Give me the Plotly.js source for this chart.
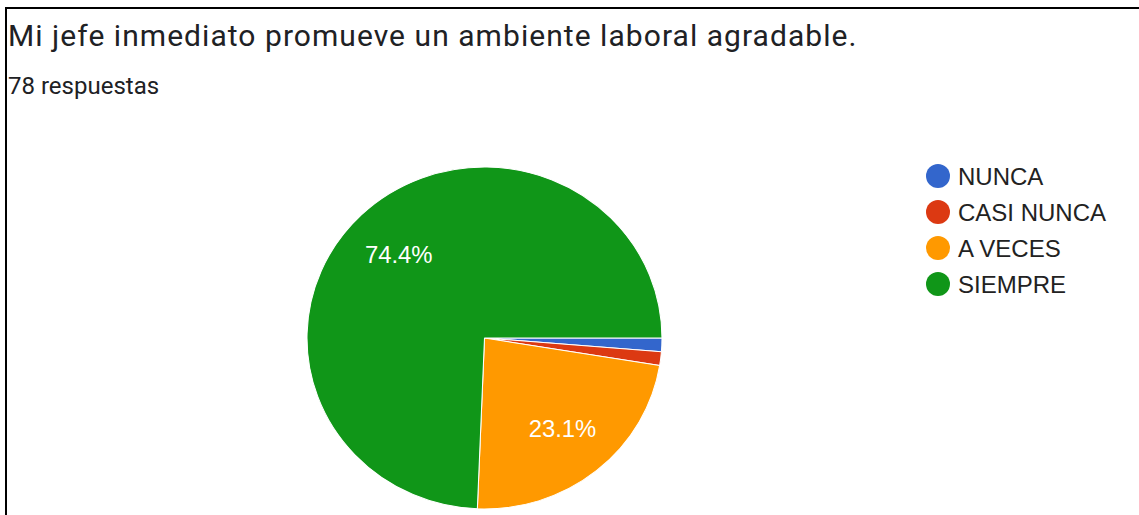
<!DOCTYPE html>
<html>
<head>
<meta charset="utf-8">
<script src="https://cdn.plot.ly/plotly-3.0.1.min.js"></script>
<style>
  html, body { margin: 0; padding: 0; background: #fff; }
  #chart { width: 1139px; height: 515px; }
</style>
</head>
<body>
<div id="chart"></div>
<script>
const titleText = 'Mi jefe inmediato promueve un ambiente laboral agradable.';
const subtitleText = '78 respuestas';
const categories = ['NUNCA', 'CASI NUNCA', 'A VECES', 'SIEMPRE'];
const counts = [1, 1, 18, 58];
const colors = ['#3366cc', '#dc3912', '#ff9900', '#109618'];
const showLabel = [false, false, true, true];

const W = 1139, H = 515;
const cx = 484.5, cy = 338, r = 171;   // pie geometry (pixels)
const stretchX = 1.038;                // reference image is slightly wider than tall
const labelRadius = 0.69;              // label distance as fraction of radius
const labelNudge = [5, 4];             // small pixel nudge of percent labels
const legendStep = 36;                 // px between legend rows

const trace = {
  type: 'pie',
  labels: categories,
  values: counts,
  sort: false,
  direction: 'clockwise',
  rotation: 90,
  marker: { colors: colors, line: { color: '#ffffff', width: 1 } },
  texttemplate: showLabel.map(s => s ? '%{percent}' : ''),
  textposition: 'inside',
  insidetextorientation: 'horizontal',
  insidetextfont: { family: 'Arial, "Liberation Sans", sans-serif', size: 23, color: '#ffffff' },
  hoverinfo: 'label+value+percent',
  domain: { x: [(cx - r) / W, (cx + r) / W], y: [(H - cy - r) / H, (H - cy + r) / H] }
};

const layout = {
  width: W, height: H,
  margin: { l: 0, r: 0, t: 0, b: 0 },
  paper_bgcolor: '#ffffff',
  showlegend: true,
  legend: {
    x: 918 / W, y: 1 - 154 / H, xanchor: 'left', yanchor: 'top',
    font: { family: 'Arial, "Liberation Sans", sans-serif', size: 24, color: '#222222' },
    bgcolor: 'rgba(0,0,0,0)'
  },
  title: {
    text: titleText,
    xref: 'paper', yref: 'container',
    x: 8 / W, xanchor: 'left',
    y: 1 - 35 / H, yanchor: 'middle',
    font: { family: 'Roboto, sans-serif', size: 30, color: '#202124' }
  },
  annotations: [{
    text: subtitleText,
    xref: 'paper', yref: 'paper',
    x: 6 / W, xanchor: 'left',
    y: 1 - 86 / H, yanchor: 'middle',
    showarrow: false,
    font: { family: 'Roboto, sans-serif', size: 24, color: '#202124' }
  }],
  shapes: [
    { type: 'line', xref: 'paper', yref: 'paper', x0: 5 / W, x1: 1, y0: 1 - 8 / H, y1: 1 - 8 / H, line: { color: '#000', width: 2 } },
    { type: 'line', xref: 'paper', yref: 'paper', x0: 6 / W, x1: 6 / W, y0: 0, y1: 1 - 7 / H, line: { color: '#000', width: 2 } }
  ]
};

const TR_RE = /translate\(\s*([-\d.eE]+)[\s,]+([-\d.eE]+)\s*\)/;

Plotly.newPlot('chart', [trace], layout, { displayModeBar: false, staticPlot: true }).then(function (gd) {
  // title letter spacing
  gd.querySelectorAll('.gtitle').forEach(function (t) { t.style.letterSpacing = '1.05px'; });

  // move percent labels outward like the original
  gd.querySelectorAll('.pielayer .slicetext, .pielayer .slicetext text').forEach(function (el) {
    const tr = el.getAttribute('transform') || '';
    const m = tr.match(TR_RE);
    if (!m) return;
    const a = parseFloat(m[1]), b = parseFloat(m[2]);
    const dx = a - cx, dy = b - cy, d = Math.hypot(dx, dy);
    if (d < 1) return;
    const na = cx + dx / d * labelRadius * r + labelNudge[0] / stretchX;
    const nb = cy + dy / d * labelRadius * r + labelNudge[1];
    el.setAttribute('transform', tr.replace(m[0], 'translate(' + na + ',' + nb + ')'));
  });

  // slight horizontal stretch of the pie
  const pl = gd.querySelector('.pielayer');
  if (pl) pl.setAttribute('transform', 'translate(' + cx + ',' + cy + ') scale(' + stretchX + ',1) translate(' + (-cx) + ',' + (-cy) + ')');

  // legend: circle symbols and row spacing
  const R = 12;
  const circle = 'M' + R + ',0A' + R + ',' + R + ' 0 1,1 0,-' + R + 'A' + R + ',' + R + ' 0 0,1 ' + R + ',0Z';
  gd.querySelectorAll('.legend .legendpoints path').forEach(function (p) {
    p.setAttribute('d', circle);
    p.style.strokeWidth = '0';
  });
  const sb = gd.querySelector('.legend .scrollbox');
  if (sb) sb.removeAttribute('clip-path');
  const items = gd.querySelectorAll('.legend .traces');
  let y0 = null;
  items.forEach(function (it, i) {
    const tr = it.getAttribute('transform') || '';
    const m = tr.match(TR_RE);
    if (!m) return;
    const x = parseFloat(m[1]), y = parseFloat(m[2]);
    if (y0 === null) y0 = y;
    it.setAttribute('transform', 'translate(' + x + ',' + (y0 + i * legendStep) + ')');
  });
});
</script>
</body>
</html>
